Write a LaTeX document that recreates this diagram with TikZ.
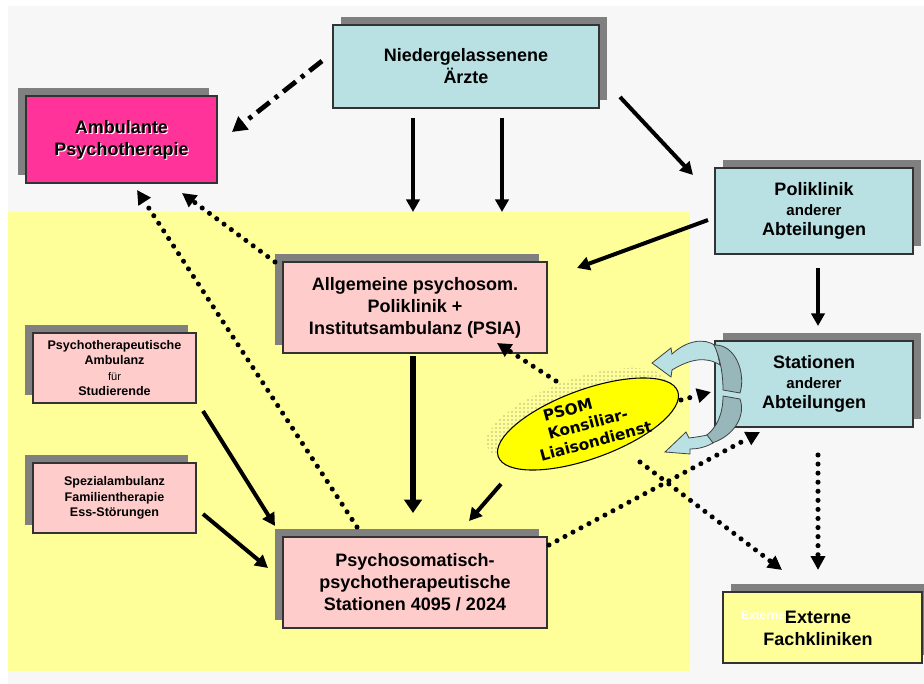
\documentclass[tikz,border=0pt]{standalone}
\usepackage{fontspec}
\setmainfont{Liberation Sans}
\newfontfamily\psomfont{DejaVu Sans}
\usetikzlibrary{arrows.meta,shapes.geometric,shadows,patterns}
\definecolor{bggray}{HTML}{F7F7F7}
\definecolor{zoneyellow}{HTML}{FFFF99}
\definecolor{boxpink}{HTML}{FFCCCC}
\definecolor{boxcyan}{HTML}{B9E0E3}
\definecolor{boxmagenta}{HTML}{FF3399}
\definecolor{shadowgray}{HTML}{808080}
\definecolor{ellyellow}{HTML}{FFFF00}
\definecolor{ribbondark}{HTML}{97B7BB}
\newcommand\bigtxt{\fontsize{13.5}{16.5}\selectfont\bfseries}
\newcommand\polytxt{\fontsize{13.5}{15}\selectfont\bfseries}
\newcommand\midtxt{\fontsize{11.25}{15}\selectfont\bfseries}
\newcommand\smalltxt{\fontsize{9.4}{11.6}\selectfont\bfseries}
\newcommand\tinytxt{\fontsize{8.3}{11.6}\selectfont\mdseries}
\begin{document}
\begin{tikzpicture}[x=0.75pt,y=-0.75pt,
  boxbase/.style={draw=black!80, line width=0.8pt, inner sep=0pt, align=center, text=black, font=\bigtxt},
  shadowR/.style={drop shadow={shadow xshift=6pt, shadow yshift=6pt, fill=shadowgray, draw=none, opacity=1}},
  shadowL/.style={drop shadow={shadow xshift=-6pt, shadow yshift=6pt, fill=shadowgray, draw=none, opacity=1}},
  bigbox/.style={boxbase, minimum width=198pt, minimum height=68.25pt},
  sidebox/.style={boxbase, minimum width=148.5pt, minimum height=64.5pt},
  smallbox/.style={boxbase, fill=boxpink, shadowL, minimum width=122.25pt, minimum height=52.5pt, font=\smalltxt},
  solidarr/.style={line width=3pt, -{Triangle[length=9.5pt,width=10pt]}},
  thickarr/.style={line width=5pt, -{Triangle[length=10pt,width=13pt]}},
  dashdotarr/.style={line width=3.6pt, dash pattern=on 12pt off 5pt on 3pt off 5pt, -{Triangle[length=11pt,width=12pt]}},
  dotarr/.style={line width=3.8pt, line cap=round, dash pattern=on 0pt off 6.8pt, -{Triangle[length=10.5pt,width=10.5pt]}},
  ribbon/.style={fill=boxcyan, draw=black!75, line width=0.6pt},
  ribbondk/.style={fill=ribbondark, draw=black!75, line width=0.6pt}
]
\useasboundingbox (0,0) rectangle (924,684);
\fill[white] (0,0) rectangle (924,684);
\fill[bggray] (8,6) rectangle (924,684);
\fill[zoneyellow] (8,212) rectangle (690,671);

% boxes
\node[boxbase, fill=boxcyan, shadowR, minimum width=199.5pt, minimum height=62.25pt] (aerzte) at (466,66.5) {Niedergelassenene\\Ärzte};
\node[boxbase, fill=boxmagenta, shadowL, minimum width=143.25pt, minimum height=65.25pt] (ambul) at (121.5,139.5) {};
\node[text=white, font=\bigtxt, align=center] (ambultxtw) at ([xshift=0.8pt,yshift=-0.8pt]ambul.center) {Ambulante\\Psychotherapie};
\node[text=black, font=\bigtxt, align=center] (ambultxt) at (ambul.center) {Ambulante\\Psychotherapie};
\node[sidebox, fill=boxcyan, shadowR, font=\polytxt] (polik) at (814,211) {Poliklinik\\{\midtxt anderer}\\Abteilungen};
\node[bigbox, fill=boxpink, shadowL] (allg) at (415,307.5) {Allgemeine psychosom.\\Poliklinik +\\Institutsambulanz (PSIA)};
\node[sidebox, fill=boxcyan, shadowR, font=\polytxt] (stat) at (814,384) {Stationen\\{\midtxt anderer}\\Abteilungen};
\node[smallbox] (stud) at (114.5,368) {Psychotherapeutische\\Ambulanz\\{\tinytxt für}\\Studierende};
\node[smallbox] (spez) at (114.5,498) {Spezialambulanz\\Familientherapie\\Ess-Störungen};
\node[bigbox, fill=boxpink, shadowL] (psst) at (415,582.5) {Psychosomatisch-\\psychotherapeutische\\Stationen 4095 / 2024};
\node[boxbase, fill=zoneyellow, shadowR, minimum width=149.25pt, minimum height=53.25pt] (ext) at (822.5,627.5) {};
\node[font=\bigtxt, align=center] (exttxt) at (818,628) {Externe\\Fachkliniken};
\node[text=white, font=\fontsize{9}{10}\selectfont\bfseries] (extghost) at (763,615) {Externe};

% stipple shadow of ellipse
\node[ellipse, rotate=20, minimum width=143.25pt, minimum height=51.75pt, inner sep=0pt, pattern=dots, pattern color=black!60] (psomshade) at (577,414) {};

% connector end points
\coordinate (c1s) at (322,61);  \coordinate (c1e) at (232,132);
\coordinate (c2s) at (413,118); \coordinate (c2e) at (413,212);
\coordinate (c3s) at (502,118); \coordinate (c3e) at (502,212);
\coordinate (c4s) at (620,97);  \coordinate (c4e) at (693,175);
\coordinate (c5s) at (708,220); \coordinate (c5e) at (577,268);
\coordinate (c6s) at (818,268); \coordinate (c6e) at (818,326);
\coordinate (c7s) at (413,356); \coordinate (c7e) at (413,513);
\coordinate (c8s) at (501,484); \coordinate (c8e) at (469,521);
\coordinate (c9s) at (203,411); \coordinate (c9e) at (275,526);
\coordinate (c10s) at (203,514); \coordinate (c10e) at (268,568);
\coordinate (d1s) at (357,527); \coordinate (d1e) at (137,190);
\coordinate (d2s) at (275,262); \coordinate (d2e) at (182,193);
\coordinate (d3s) at (556,381); \coordinate (d3e) at (497,343);
\coordinate (d4s) at (681,400); \coordinate (d4e) at (711,392);
\coordinate (d5s) at (549,545); \coordinate (d5e) at (760,432);
\coordinate (d6s) at (640,462); \coordinate (d6e) at (782,570);
\coordinate (d7s) at (818,455); \coordinate (d7e) at (818,570);

\draw[dashdotarr] (c1s) -- (c1e);
\draw[solidarr] (c2s) -- (c2e);
\draw[solidarr] (c3s) -- (c3e);
\draw[solidarr] (c4s) -- (c4e);
\draw[solidarr] (c5s) -- (c5e);
\draw[solidarr] (c6s) -- (c6e);
\draw[thickarr] (c7s) -- (c7e);
\draw[solidarr] (c8s) -- (c8e);
\draw[solidarr] (c9s) -- (c9e);
\draw[solidarr] (c10s) -- (c10e);
\draw[dotarr] (d1s) -- (d1e);
\draw[dotarr] (d2s) -- (d2e);
\draw[dotarr] (d3s) -- (d3e);
\draw[dotarr] (d5s) -- (d5e);
\draw[dotarr] (d6s) -- (d6e);
\draw[dotarr] (d7s) -- (d7e);

% PSOM ellipse
\node[ellipse, rotate=20, draw=black, line width=0.8pt, fill=ellyellow, minimum width=143.25pt, minimum height=51.75pt, inner sep=0pt] (psom) at (588,424) {};
\node[rotate=15, align=left, inner sep=0pt, font=\psomfont\bfseries\fontsize{11.5}{14}\selectfont] (psomtxt) at (591,423) {\hspace*{10pt}PSOM\\\hspace*{10pt}Konsiliar-\\Liaisondienst};
\draw[dotarr] (d4s) -- (d4e);

% curved arrows around Stationen
\filldraw[ribbon] (652,363) -- (671,348) -- (672,354) .. controls (686,341) and (704,337) .. (716,346) -- (720,365) .. controls (706,356) and (690,359) .. (672,370) -- (671,377) -- cycle;
\filldraw[ribbondk] (714,345) .. controls (736,344) and (746,374) .. (740,393) -- (723,390) .. controls (723,376) and (721,360) .. (714,345) -- cycle;
\filldraw[ribbondk] (723,396) -- (740,399) .. controls (746,416) and (734,436) .. (712,443) -- (704,437) .. controls (718,428) and (723,412) .. (723,396) -- cycle;
\filldraw[ribbon] (665,452) -- (686,432) -- (689,438) .. controls (697,437) and (703,436) .. (707,435) -- (713,443) .. controls (704,448) and (696,449) .. (690,449) -- (690,454) -- cycle;
\end{tikzpicture}
\end{document}
